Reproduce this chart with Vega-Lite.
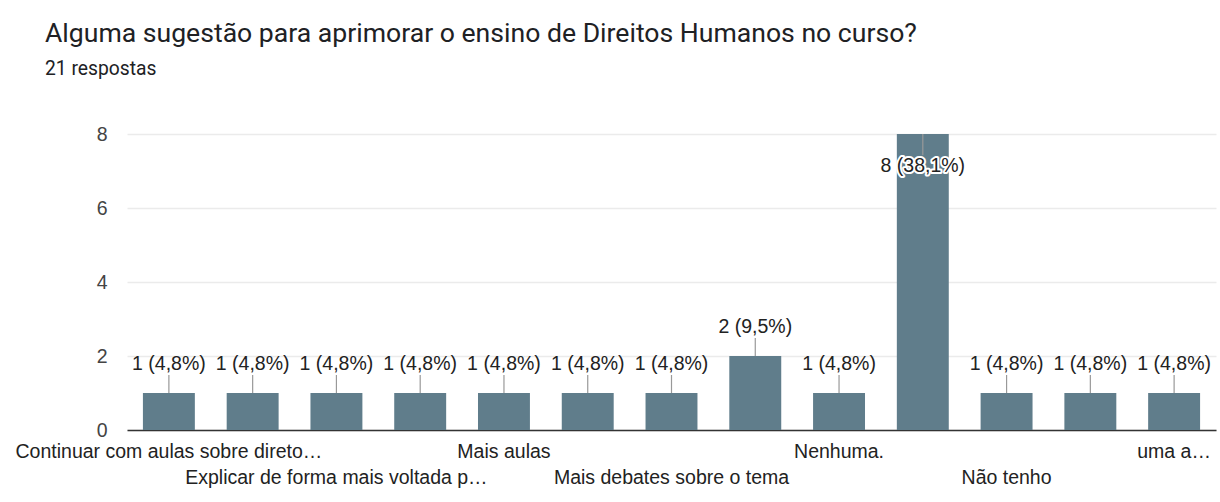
{
  "$schema": "https://vega.github.io/schema/vega-lite/v6.json",
  "autosize": {"type": "none"},
  "width": 1089,
  "height": 296,
  "padding": {"left": 127, "top": 134, "right": 4, "bottom": 72},
  "background": "white",
  "title": {
    "text": "Alguma sugestão para aprimorar o ensino de Direitos Humanos no curso?",
    "subtitle": "21 respostas",
    "anchor": "start",
    "frame": "group",
    "dx": -82,
    "offset": 45,
    "font": "Roboto",
    "fontSize": 26.6,
    "fontWeight": "normal",
    "color": "#202124",
    "subtitleFont": "Roboto",
    "subtitleFontSize": 19.3,
    "subtitleColor": "#202124",
    "subtitlePadding": 12
  },
  "config": {"view": {"stroke": null}},
  "data": {
    "values": [
      {"resposta": "Continuar com aulas sobre direto…", "valor": 1, "rotulo": "1 (4,8%)"},
      {"resposta": "Debates e palestras", "valor": 1, "rotulo": "1 (4,8%)"},
      {"resposta": "Explicar de forma mais voltada p…", "valor": 1, "rotulo": "1 (4,8%)"},
      {"resposta": "Mais atividades práticas", "valor": 1, "rotulo": "1 (4,8%)"},
      {"resposta": "Mais aulas", "valor": 1, "rotulo": "1 (4,8%)"},
      {"resposta": "Mais aulas práticas", "valor": 1, "rotulo": "1 (4,8%)"},
      {"resposta": "Mais debates sobre o tema", "valor": 1, "rotulo": "1 (4,8%)"},
      {"resposta": "Nenhuma", "valor": 2, "rotulo": "2 (9,5%)"},
      {"resposta": "Nenhuma.", "valor": 1, "rotulo": "1 (4,8%)"},
      {"resposta": "Não", "valor": 8, "rotulo": "8 (38,1%)"},
      {"resposta": "Não tenho", "valor": 1, "rotulo": "1 (4,8%)"},
      {"resposta": "Não tenho sugestões", "valor": 1, "rotulo": "1 (4,8%)"},
      {"resposta": "uma a…", "valor": 1, "rotulo": "1 (4,8%)"}
    ]
  },
  "encoding": {
    "x": {
      "field": "resposta",
      "type": "nominal",
      "sort": null,
      "scale": {"paddingInner": 0.38, "paddingOuter": 0.19},
      "axis": {
        "title": null,
        "labelAngle": 0,
        "ticks": false,
        "tickSize": 0,
        "domainColor": "#333333",
        "domainWidth": 1.5,
        "labelFont": "Liberation Sans",
        "labelFontSize": 19.5,
        "labelColor": "#222222",
        "labelBaseline": "top",
        "labelPadding": 12,
        "labelLineHeight": 26,
        "labelLimit": 0,
        "labelOverlap": false,
        "labelExpr": "indexof(['Continuar com aulas sobre direto…','Mais aulas','Nenhuma.','uma a…'], datum.value) >= 0 ? datum.value : (indexof(['Explicar de forma mais voltada p…','Mais debates sobre o tema','Não tenho'], datum.value) >= 0 ? ['', datum.value] : '')"
      }
    }
  },
  "layer": [
    {
      "mark": {"type": "bar", "color": "#607d8b"},
      "encoding": {
        "y": {
          "field": "valor",
          "type": "quantitative",
          "scale": {"domain": [0, 8], "nice": false},
          "axis": {
            "title": null,
            "values": [0, 1, 2, 3, 4, 5, 6, 7, 8],
            "labelExpr": "datum.value % 2 == 0 ? datum.label : ''",
            "domain": false,
            "ticks": false,
            "labelPadding": 20,
            "labelFont": "Liberation Sans",
            "labelFontSize": 19.5,
            "labelColor": "#444444",
            "gridColor": "#ebebeb",
            "gridWidth": 1.5
          }
        }
      }
    },
    {
      "transform": [{"filter": "datum.valor < 8"}],
      "mark": {"type": "rule", "color": "#999999", "strokeWidth": 1.2, "y2Offset": -18},
      "encoding": {
        "y": {"field": "valor", "type": "quantitative"},
        "y2": {"field": "valor"}
      }
    },
    {
      "transform": [{"filter": "datum.valor < 8"}],
      "mark": {"type": "text", "font": "Liberation Sans", "fontSize": 19.5, "color": "#222222", "baseline": "alphabetic", "dy": -23},
      "encoding": {
        "y": {"field": "valor", "type": "quantitative"},
        "text": {"field": "rotulo"}
      }
    },
    {
      "transform": [{"filter": "datum.valor >= 8"}],
      "mark": {"type": "rule", "color": "#999999", "strokeWidth": 1.2, "y2Offset": 21},
      "encoding": {
        "y": {"field": "valor", "type": "quantitative"},
        "y2": {"field": "valor"}
      }
    },
    {
      "transform": [{"filter": "datum.valor >= 8"}],
      "mark": {"type": "text", "font": "Liberation Sans", "fontSize": 19.5, "color": "white", "stroke": "white", "strokeWidth": 4, "strokeJoin": "round", "baseline": "alphabetic", "dy": 38},
      "encoding": {
        "y": {"field": "valor", "type": "quantitative"},
        "text": {"field": "rotulo"}
      }
    },
    {
      "transform": [{"filter": "datum.valor >= 8"}],
      "mark": {"type": "text", "font": "Liberation Sans", "fontSize": 19.5, "color": "#222222", "baseline": "alphabetic", "dy": 38},
      "encoding": {
        "y": {"field": "valor", "type": "quantitative"},
        "text": {"field": "rotulo"}
      }
    }
  ]
}
